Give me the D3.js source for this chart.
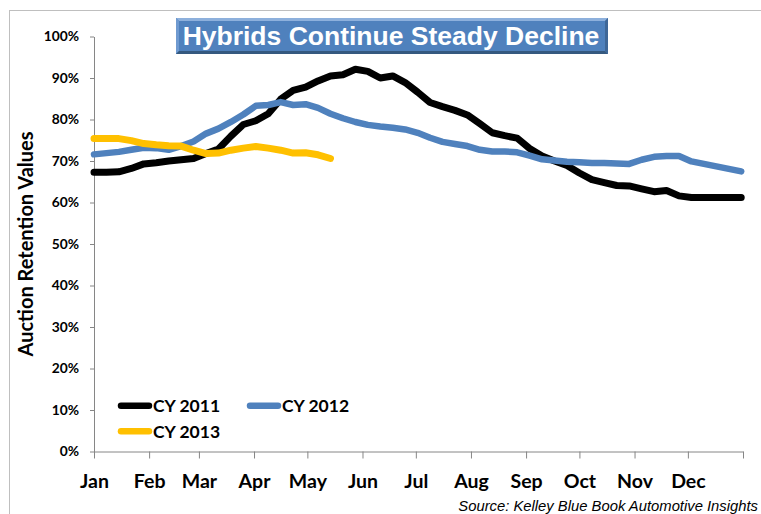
<!DOCTYPE html>
<html>
<head>
<meta charset="utf-8">
<script src="https://cdn.jsdelivr.net/npm/d3@7"></script>
<style>
  html, body { margin: 0; padding: 0; background: #fff; }
  svg { display: block; }
</style>
</head>
<body>
<svg id="chart" width="761" height="514"></svg>
<script>
// ---- Data ----
const monthLabels = ["Jan","Feb","Mar","Apr","May","Jun","Jul","Aug","Sep","Oct","Nov","Dec"];
const yTickValues = [0,0.1,0.2,0.3,0.4,0.5,0.6,0.7,0.8,0.9,1.0];
const seriesNames = ["CY 2011","CY 2012","CY 2013"];
// weekly auction retention values (%)
const cy2011 = [67.3,67.3,67.4,68.2,69.3,69.6,70.0,70.3,70.6,71.8,72.9,76.0,78.8,79.7,81.4,84.9,87.0,87.8,89.3,90.5,90.8,92.1,91.6,90.0,90.5,88.9,86.6,84.1,83.1,82.2,81.1,79.0,76.8,76.1,75.5,73.0,71.2,70.0,68.9,67.1,65.5,64.8,64.1,64.0,63.3,62.6,62.9,61.6,61.2,61.2,61.2,61.2,61.2];
const cy2012 = [71.6,71.9,72.2,72.7,73.2,73.1,72.7,73.6,74.7,76.6,77.8,79.4,81.2,83.3,83.5,84.2,83.5,83.7,82.8,81.4,80.3,79.4,78.7,78.3,78.0,77.6,76.8,75.6,74.6,74.1,73.6,72.7,72.3,72.3,72.1,71.3,70.4,70.1,69.8,69.7,69.5,69.5,69.4,69.3,70.3,71.0,71.2,71.2,69.9,69.3,68.7,68.1,67.5];
const cy2013 = [75.4,75.4,75.4,74.9,74.2,73.9,73.7,73.6,72.6,71.8,71.9,72.6,73.1,73.5,73.1,72.6,71.9,72.0,71.5,70.6];
const seriesColors = ["#000000","#4F81BD","#FFC000"];

// ---- Layout ----
const svg = d3.select("#chart");
const start = new Date(Date.UTC(2011,0,1));
const end = new Date(Date.UTC(2012,0,1));
const x = d3.scaleUtc().domain([start,end]).range([94,743]);
const y = d3.scaleLinear().domain([0,1]).range([451.5,36.5]);
const weekDate = i => d3.utcDay.offset(start, 7*i);
const calib = "Lato, 'Open Sans', sans-serif";

// outer border
svg.append("rect").attr("x",9.5).attr("y",10.5).attr("width",780).attr("height",540)
  .attr("fill","none").attr("stroke","#BFBFBF").attr("stroke-width",1);

// Y axis
const yAxis = d3.axisLeft(y).tickValues(yTickValues).tickFormat(d3.format(".0%"))
  .tickSize(4).tickSizeOuter(0).tickPadding(11);
const gy = svg.append("g").attr("transform","translate(94,0)").call(yAxis);
gy.select(".domain").attr("stroke","#868686");
gy.selectAll(".tick line").attr("stroke","#868686");
gy.selectAll("text").attr("font-family",calib)
  .attr("font-weight","bold").attr("font-size","13.8px").attr("fill","#000");

// X axis
const monthTicks = d3.utcMonth.range(start, d3.utcDay.offset(end,1));
const xAxis = d3.axisBottom(x).tickValues(monthTicks)
  .tickFormat((d,i) => i < monthLabels.length ? monthLabels[i] : "")
  .tickSize(7).tickSizeOuter(0).tickPadding(16);
const gx = svg.append("g").attr("transform","translate(0,451.5)").call(xAxis);
gx.select(".domain").attr("stroke","#868686");
gx.selectAll(".tick line").attr("stroke","#868686");
gx.selectAll("text").attr("font-family",calib)
  .attr("font-weight","bold").attr("font-size","19.5px").attr("fill","#000");

// Y axis title
svg.append("text").attr("transform","translate(33,244) rotate(-90)")
  .attr("text-anchor","middle").attr("font-family",calib)
  .attr("font-weight","bold").attr("font-size","20px").attr("fill","#000")
  .text("Auction Retention Values");

// Lines
const line = d3.line().x((d,i) => x(weekDate(i))).y(d => y(d/100));
[cy2011, cy2012, cy2013].forEach((s,k) => {
  svg.append("path").datum(s).attr("d", line).attr("fill","none")
    .attr("stroke", seriesColors[k]).attr("stroke-width", k===1 ? 6.5 : 7)
    .attr("stroke-linejoin","round").attr("stroke-linecap","round");
});

// Legend
const legendPos = [[118,405.7],[247,405.7],[118,431.3]];
seriesNames.forEach((n,k) => {
  const [lx,ly] = legendPos[k];
  svg.append("line").attr("x1",lx+3).attr("x2",lx+31).attr("y1",ly).attr("y2",ly)
    .attr("stroke",seriesColors[k]).attr("stroke-width",6.5).attr("stroke-linecap","round");
  svg.append("text").attr("x",lx+35).attr("y",ly+6.3)
    .attr("font-family",calib).attr("font-weight","bold")
    .attr("font-size","17.5px").attr("fill","#000").text(n);
});

// Title box with bevel
const tb = {x:176, y:18, w:432, h:36, b:3};
const tg = svg.append("g");
tg.append("rect").attr("x",tb.x).attr("y",tb.y).attr("width",tb.w).attr("height",tb.h).attr("fill","#4F81BD");
tg.append("polygon").attr("points",[[tb.x,tb.y],[tb.x+tb.w,tb.y],[tb.x+tb.w-tb.b,tb.y+tb.b],[tb.x+tb.b,tb.y+tb.b]].join(" ")).attr("fill","#8DB0DC");
tg.append("polygon").attr("points",[[tb.x,tb.y],[tb.x+tb.b,tb.y+tb.b],[tb.x+tb.b,tb.y+tb.h-tb.b],[tb.x,tb.y+tb.h]].join(" ")).attr("fill","#6F9AD0");
tg.append("polygon").attr("points",[[tb.x,tb.y+tb.h],[tb.x+tb.b,tb.y+tb.h-tb.b],[tb.x+tb.w-tb.b,tb.y+tb.h-tb.b],[tb.x+tb.w,tb.y+tb.h]].join(" ")).attr("fill","#35597F");
tg.append("polygon").attr("points",[[tb.x+tb.w,tb.y],[tb.x+tb.w,tb.y+tb.h],[tb.x+tb.w-tb.b,tb.y+tb.h-tb.b],[tb.x+tb.w-tb.b,tb.y+tb.b]].join(" ")).attr("fill","#3F6797");
tg.append("text").attr("x",tb.x+tb.w/2-1).attr("y",45).attr("text-anchor","middle")
  .attr("font-family","'Liberation Sans', Arial, sans-serif").attr("font-weight","bold")
  .attr("font-size","26.5px").attr("fill","#fff").text("Hybrids Continue Steady Decline");

// Source
svg.append("text").attr("x",758).attr("y",510.5).attr("text-anchor","end")
  .attr("font-family","'Liberation Sans', Arial, sans-serif").attr("font-style","italic")
  .attr("font-size","14.8px").attr("fill","#000").text("Source: Kelley Blue Book Automotive Insights");
</script>
</body>
</html>
